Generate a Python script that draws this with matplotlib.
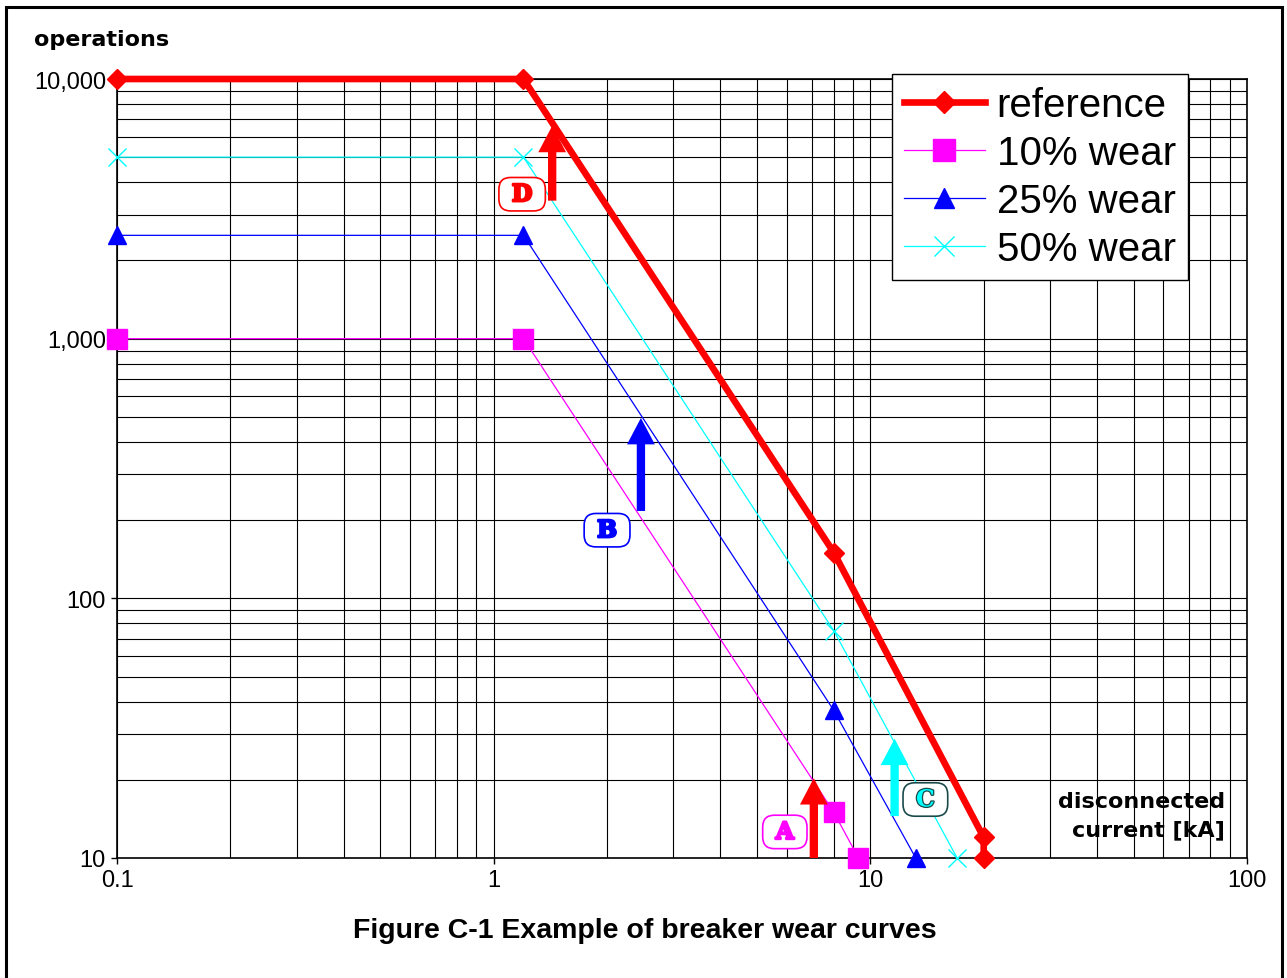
import numpy as np
import matplotlib.pyplot as plt
from matplotlib.patches import Rectangle
from matplotlib.ticker import FixedLocator, FixedFormatter, NullFormatter
import matplotlib.patheffects as pe

# ---- data ----
ref_x = [0.1, 1.2, 8, 20, 20]
ref_y = [10000, 10000, 150, 12, 10]

w10_x = [0.1, 1.2, 8, 9.3]
w10_y = [1000, 1000, 15, 10]

w25_x = [0.1, 1.2, 8, 13.2]
w25_y = [2500, 2500, 37, 10]

w50_x = [0.1, 1.2, 8, 17]
w50_y = [5000, 5000, 75, 10]

# arrows: x, y start, y end, colour
arrow_x = [1.43, 2.46, 7.08, 11.6]
arrow_y0 = [3400, 217, 10, 14.5]
arrow_y1 = [6600, 495, 20.3, 28.8]
arrow_col = ["red", "blue", "red", "cyan"]

# letter labels
lab_text = ["D", "B", "A", "C"]
lab_x = [1.19, 2.0, 5.93, 14.0]
lab_y = [3600, 183, 12.6, 16.8]
lab_col = ["red", "blue", "magenta", "cyan"]
lab_edge = ["red", "blue", "magenta", "#1a4a4a"]

x_ticks = [0.1, 1, 10, 100]
x_labels = ["0.1", "1", "10", "100"]
y_ticks = [10, 100, 1000, 10000]
y_labels = ["10", "100", "1,000", "10,000"]

# ---- plotting ----
plt.rcParams['font.family'] = ['Liberation Sans', 'DejaVu Sans']

fig = plt.figure(figsize=(12.87, 9.79), dpi=100)
ax = fig.add_axes([117/1287, 1 - 859/979, 1130/1287, 779/979])

ax.set_xscale("log")
ax.set_yscale("log")
ax.set_xlim(0.1, 100)
ax.set_ylim(10, 10000)

ax.grid(True, which="both", color="black", lw=0.8)
ax.set_axisbelow(True)

ax.plot(w10_x, w10_y, color="magenta", lw=0.9, marker="s", ms=14,
        label="10% wear", clip_on=False, zorder=3)
ax.plot(w25_x, w25_y, color="blue", lw=0.9, marker="^", ms=13,
        label="25% wear", clip_on=False, zorder=3)
ax.plot(w50_x, w50_y, color="cyan", lw=0.9, marker="x", ms=13, mew=1,
        label="50% wear", clip_on=False, zorder=3)
ax.plot(ref_x, ref_y, color="red", lw=4.8, marker="D", ms=10,
        label="reference", clip_on=False, zorder=4)

for x, y0, y1, c in zip(arrow_x, arrow_y0, arrow_y1, arrow_col):
    ax.annotate("", xy=(x, y1), xytext=(x, y0),
                arrowprops=dict(arrowstyle="simple,head_length=0.95,head_width=1.0,tail_width=0.3",
                                mutation_scale=20, color=c, shrinkA=0, shrinkB=0, lw=0),
                zorder=5)

for t, x, y, c, ec in zip(lab_text, lab_x, lab_y, lab_col, lab_edge):
    txt = ax.text(x, y, " " + t + " ", color=c, fontsize=17, fontweight="bold",
                  family="DejaVu Serif", ha="center", va="center", zorder=6,
                  bbox=dict(boxstyle="round,pad=0.2,rounding_size=0.5",
                            fc="white", ec=ec, lw=1.2))
    stroke = "#1a4a4a" if t == "C" else c
    txt.set_path_effects([pe.withStroke(linewidth=1.8, foreground=stroke)])

ax.xaxis.set_major_locator(FixedLocator(x_ticks))
ax.xaxis.set_major_formatter(FixedFormatter(x_labels))
ax.yaxis.set_major_locator(FixedLocator(y_ticks))
ax.yaxis.set_major_formatter(FixedFormatter(y_labels))
ax.xaxis.set_minor_formatter(NullFormatter())
ax.yaxis.set_minor_formatter(NullFormatter())
ax.tick_params(which="major", direction="out", length=4, width=1, labelsize=17, pad=4)
ax.tick_params(which="minor", length=0)
for s in ax.spines.values():
    s.set_linewidth(1.2)

handles, labels = ax.get_legend_handles_labels()
order = [3, 0, 1, 2]
leg = fig.legend([handles[i] for i in order], [labels[i] for i in order],
                 loc="upper left", bbox_to_anchor=(892/1287, 1 - 75/979),
                 fontsize=29, frameon=True, fancybox=False, framealpha=1,
                 edgecolor="black", handlelength=2.0, handletextpad=0.3,
                 labelspacing=0.25, borderpad=0.3, borderaxespad=0,
                 markerscale=1.15)
leg.get_frame().set_linewidth(1)

fig.text(34/1287, 1 - 40/979, "operations", family="DejaVu Sans",
         fontweight="bold", fontsize=16, ha="left", va="center")
fig.text(1225/1287, 1 - 816/979, "disconnected\ncurrent [kA]", family="DejaVu Sans",
         fontweight="bold", fontsize=16, ha="right", va="center",
         multialignment="right", linespacing=1.55, zorder=7)
fig.text(645/1287, 1 - 931/979, "Figure C-1 Example of breaker wear curves",
         fontweight="bold", fontsize=20.5, ha="center", va="center")

fig.patches.append(Rectangle((6/1287, -0.01), 1276/1287, 1.0018,
                             transform=fig.transFigure, fill=False,
                             edgecolor="black", lw=2.2))

fig.savefig("out.png", dpi=100)
